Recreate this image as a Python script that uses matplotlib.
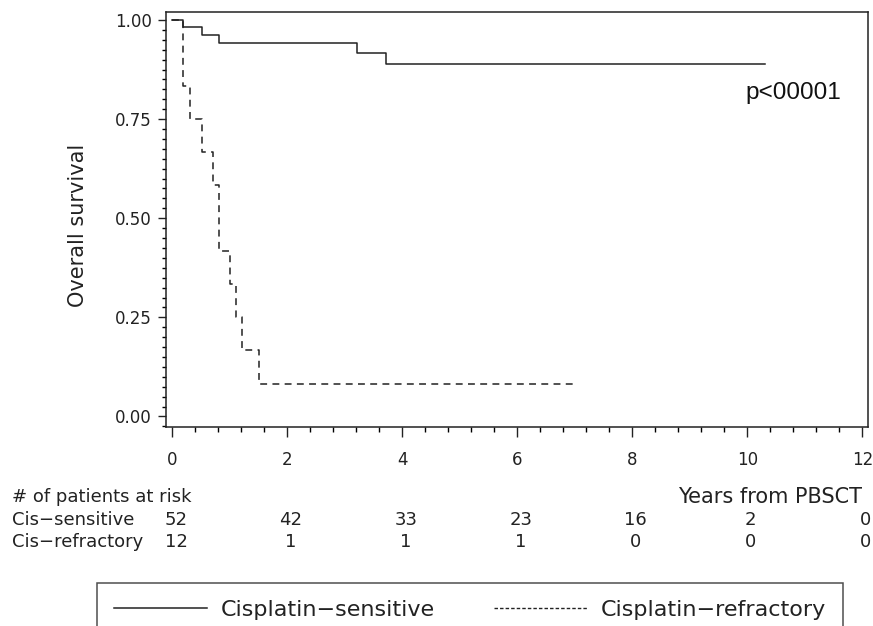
import numpy as np
import matplotlib
matplotlib.use("Agg")
import matplotlib.pyplot as plt
import matplotlib.transforms as mtransforms
from matplotlib.lines import Line2D
from matplotlib.ticker import MultipleLocator, FormatStrFormatter

plt.rcParams["font.family"] = ["DejaVu Sans"]

# Kaplan-Meier step data
sens_times = [0.0, 0.18, 0.51, 0.81, 3.21, 3.72, 10.31]
sens_surv = [1.0, 0.981, 0.962, 0.942, 0.917, 0.889, 0.889]
refr_times = [0.0, 0.18, 0.30, 0.51, 0.70, 0.81, 1.0, 1.1, 1.21, 1.51, 7.0]
refr_surv = [1.0, 0.833, 0.75, 0.667, 0.583, 0.417, 0.333, 0.25, 0.167, 0.083, 0.083]

# numbers at risk table
risk_years = [0, 2, 4, 6, 8, 10, 12]
risk_sens = [52, 42, 33, 23, 16, 2, 0]
risk_refr = [12, 1, 1, 1, 0, 0, 0]
row_labels = ["Cis\u2212sensitive", "Cis\u2212refractory"]
legend_labels = ["Cisplatin\u2212sensitive", "Cisplatin\u2212refractory"]

W, H = 873, 626
fig = plt.figure(figsize=(W / 100, H / 100), dpi=100)
ax = fig.add_axes([166 / W, 1 - 427 / H, (868 - 166) / W, (427 - 12) / H])

ax.step(sens_times, sens_surv, where="post", color="#222222", lw=1.1)
ax.step(refr_times, refr_surv, where="post", color="#222222", lw=1.1,
        linestyle=(0, (4.5, 3.5)))

ax.set_xlim(-0.113, 12.10)
ax.set_ylim(-0.0265, 1.020)

ax.xaxis.set_major_locator(MultipleLocator(2))
ax.xaxis.set_minor_locator(MultipleLocator(0.4))
ax.yaxis.set_major_locator(MultipleLocator(0.25))
ax.yaxis.set_minor_locator(MultipleLocator(0.025))
ax.yaxis.set_major_formatter(FormatStrFormatter("%.2f"))

ax.tick_params(axis="x", which="major", direction="out", length=7.5, width=1,
               pad=10, labelsize=12, colors="#222222")
ax.tick_params(axis="x", which="minor", direction="out", length=3.5, width=1)
ax.tick_params(axis="y", which="major", direction="out", length=6, width=1,
               pad=4, labelsize=12, colors="#222222")
ax.tick_params(axis="y", which="minor", direction="out", length=3, width=1)
for s in ax.spines.values():
    s.set_linewidth(1.1)
    s.set_color("#222222")

ax.set_ylabel("Overall survival", fontsize=15, color="#222222")
ax.yaxis.set_label_coords((88 - 166) / (868 - 166), (427 - 225) / (427 - 12))

ax.text(9.96, 0.80, "p<00001", fontsize=17.5, family="Liberation Sans",
        color="#111111", va="baseline", ha="left")

# risk table below the axis
trans = mtransforms.blended_transform_factory(ax.transData, fig.transFigure)
fig.text(12 / W, 1 - 497 / H, "# of patients at risk", fontsize=13,
         va="center", ha="left", color="#222222")
ax.text(12, 1 - 497 / H, "Years from PBSCT", transform=trans, fontsize=15,
        va="center", ha="right", color="#222222")
for row, (label, counts) in enumerate(zip(row_labels, [risk_sens, risk_refr])):
    ypos = 1 - (520 + 22 * row) / H
    fig.text(12 / W, ypos, label, fontsize=13, va="center", ha="left",
             color="#222222")
    for yr, n in zip(risk_years, counts):
        ax.text(yr + 0.06, ypos, str(n), transform=trans, fontsize=13,
                va="center", ha="center", color="#222222", clip_on=False)

handles = [
    Line2D([], [], color="#222222", lw=1.1),
    Line2D([], [], color="#222222", lw=1.0, linestyle=(0, (2.5, 1.5))),
]
fig.legend(handles, legend_labels, loc="upper left",
           bbox_to_anchor=(97 / W, 1 - 583 / H), ncol=2, fontsize=16,
           frameon=True, fancybox=False, edgecolor="#222222",
           handlelength=4.2, handletextpad=0.6, columnspacing=2.7,
           borderpad=0.75, borderaxespad=0, labelcolor="#222222")
fig.legends[0].get_frame().set_linewidth(1.1)

fig.savefig("out.png", dpi=100)
